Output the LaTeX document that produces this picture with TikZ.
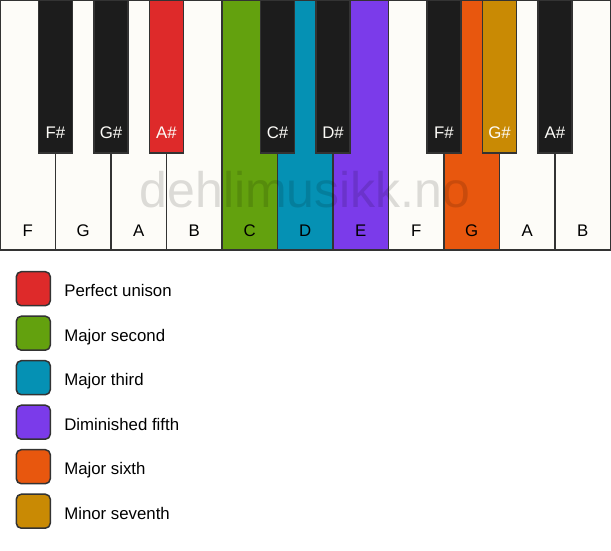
\documentclass[tikz,border=0pt]{standalone}
\usepackage{fontspec}
\setmainfont{Liberation Sans}
\usetikzlibrary{positioning}

\definecolor{keywhite}{HTML}{FDFCF8}
\definecolor{keyblack}{HTML}{1C1C1C}
\definecolor{keyline}{HTML}{333333}
\definecolor{keyred}{HTML}{DE2A2A}
\definecolor{keygreen}{HTML}{63A10E}
\definecolor{keyteal}{HTML}{0591B4}
\definecolor{keypurple}{HTML}{7B3BEA}
\definecolor{keyorange}{HTML}{E8570E}
\definecolor{keyochre}{HTML}{C98A04}

\begin{document}
\begin{tikzpicture}[x=1pt, y=-1pt, node distance=0pt, outer sep=0pt,
    font=\fontsize{16.8}{20}\selectfont,
    wkey/.style={rectangle, draw=keyline, line width=1.5pt, fill=keywhite, minimum width=55.5pt, minimum height=250pt, inner sep=0pt},
    bkey/.style={rectangle, draw=keyline, line width=1.2pt, fill=keyblack, minimum width=34pt, minimum height=153pt, inner sep=0pt, anchor=north},
    wname/.style={anchor=base, inner sep=0pt},
    bname/.style={anchor=base, inner sep=0pt, text=keywhite},
    swatch/.style={rectangle, rounded corners=5pt, draw=keyline, line width=1.5pt, minimum size=34pt, inner sep=0pt},
    legtext/.style={inner sep=0pt, text height=12.2pt, text depth=0pt, yshift=-2pt}]
    \useasboundingbox (0,0) rectangle (611,550);
    % white keys
    \node [wkey, anchor=north west] (kF1) at (0,0) {};
    \node [wkey, right=of kF1] (kG1) {};
    \node [wkey, right=of kG1] (kA1) {};
    \node [wkey, right=of kA1] (kB1) {};
    \node [wkey, fill=keygreen, right=of kB1] (kC) {};
    \node [wkey, fill=keyteal, right=of kC] (kD) {};
    \node [wkey, fill=keypurple, right=of kD] (kE) {};
    \node [wkey, right=of kE] (kF2) {};
    \node [wkey, fill=keyorange, right=of kF2] (kG2) {};
    \node [wkey, right=of kG2] (kA2) {};
    \node [wkey, right=of kA2] (kB2) {};
    \node [wname] (lF1) at ([yshift=14pt]kF1.south) {F};
    \node [wname] (lG1) at ([yshift=14pt]kG1.south) {G};
    \node [wname] (lA1) at ([yshift=14pt]kA1.south) {A};
    \node [wname] (lB1) at ([yshift=14pt]kB1.south) {B};
    \node [wname] (lC) at ([yshift=14pt]kC.south) {C};
    \node [wname] (lD) at ([yshift=14pt]kD.south) {D};
    \node [wname] (lE) at ([yshift=14pt]kE.south) {E};
    \node [wname] (lF2) at ([yshift=14pt]kF2.south) {F};
    \node [wname] (lG2) at ([yshift=14pt]kG2.south) {G};
    \node [wname] (lA2) at ([yshift=14pt]kA2.south) {A};
    \node [wname] (lB2) at ([yshift=14pt]kB2.south) {B};
    % black keys
    \node [bkey] (kFs1) at (kF1.north east) {};
    \node [bkey] (kGs1) at (kG1.north east) {};
    \node [bkey, fill=keyred] (kAs1) at (kA1.north east) {};
    \node [bkey] (kCs) at (kC.north east) {};
    \node [bkey] (kDs) at (kD.north east) {};
    \node [bkey] (kFs2) at (kF2.north east) {};
    \node [bkey, fill=keyochre] (kGs2) at (kG2.north east) {};
    \node [bkey] (kAs2) at (kA2.north east) {};
    \node [bname] (lFs1) at ([yshift=14.5pt]kFs1.south) {F\#};
    \node [bname] (lGs1) at ([yshift=14.5pt]kGs1.south) {G\#};
    \node [bname] (lAs1) at ([yshift=14.5pt]kAs1.south) {A\#};
    \node [bname] (lCs) at ([yshift=14.5pt]kCs.south) {C\#};
    \node [bname] (lDs) at ([yshift=14.5pt]kDs.south) {D\#};
    \node [bname] (lFs2) at ([yshift=14.5pt]kFs2.south) {F\#};
    \node [bname] (lGs2) at ([yshift=14.5pt]kGs2.south) {G\#};
    \node [bname] (lAs2) at ([yshift=14.5pt]kAs2.south) {A\#};
    % watermark
    \node [inner sep=0pt, text=black, opacity=0.13, font=\fontsize{50}{52}\selectfont] (mark) at (305,190) {dehlimusikk.no};
    % legend
    \node [swatch, fill=keyred] (sw1) at (33.3,288.7) {};
    \node [swatch, fill=keygreen, below=10.5pt of sw1] (sw2) {};
    \node [swatch, fill=keyteal, below=10.5pt of sw2] (sw3) {};
    \node [swatch, fill=keypurple, below=10.5pt of sw3] (sw4) {};
    \node [swatch, fill=keyorange, below=10.5pt of sw4] (sw5) {};
    \node [swatch, fill=keyochre, below=10.5pt of sw5] (sw6) {};
    \node [legtext, right=14pt of sw1] (tx1) {Perfect unison};
    \node [legtext, right=14pt of sw2] (tx2) {Major second};
    \node [legtext, right=14pt of sw3] (tx3) {Major third};
    \node [legtext, right=14pt of sw4] (tx4) {Diminished fifth};
    \node [legtext, right=14pt of sw5] (tx5) {Major sixth};
    \node [legtext, right=14pt of sw6] (tx6) {Minor seventh};
\end{tikzpicture}
\end{document}
